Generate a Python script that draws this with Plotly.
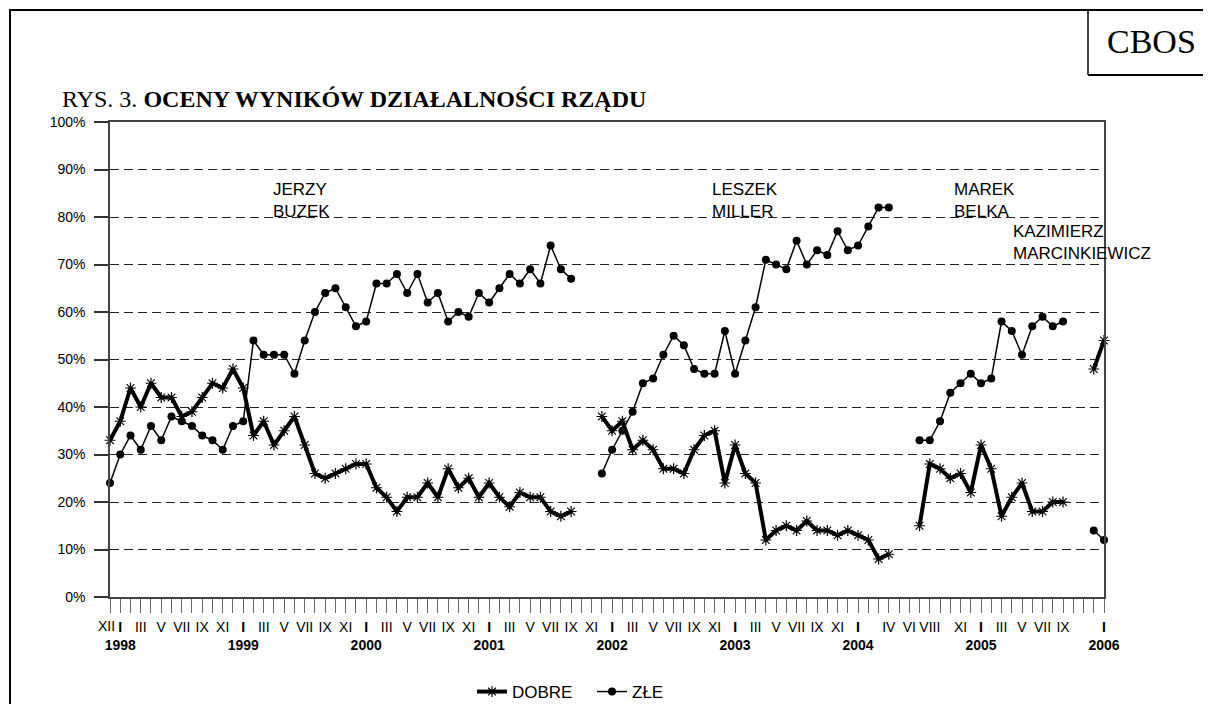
import plotly.graph_objects as go

# ---- categories: monthly, XII 1997 .. I 2006 ----
ROMAN = ["I", "II", "III", "IV", "V", "VI", "VII", "VIII", "IX", "X", "XI", "XII"]
YEARS = [1998, 1999, 2000, 2001, 2002, 2003, 2004, 2005]
months = ["XII 1997"] + [f"{r} {y}" for y in YEARS for r in ROMAN] + ["I 2006"]

# month labels that are printed under the axis, per year
shown_labels = {
    1998: ["I", "III", "V", "VII", "IX", "XI"],
    1999: ["I", "III", "V", "VII", "IX", "XI"],
    2000: ["I", "III", "V", "VII", "IX", "XI"],
    2001: ["I", "III", "V", "VII", "IX", "XI"],
    2002: ["I", "III", "V", "VII", "IX", "XI"],
    2003: ["I", "III", "V", "VII", "IX", "XI"],
    2004: ["I", "IV", "VI", "VIII", "XI"],
    2005: ["I", "III", "V", "VII", "IX"],
    2006: ["I"],
}
first_label = "XII"  # label of the first month (XII 1997), set slightly left of its tick

# ---- values (%) ----
dobre_buzek = [33, 37, 44, 40, 45, 42, 42, 38, 39, 42, 45, 44, 48, 44, 34, 37, 32, 35, 38, 32,
               26, 25, 26, 27, 28, 28, 23, 21, 18, 21, 21, 24, 21, 27, 23, 25, 21, 24, 21, 19,
               22, 21, 21, 18, 17, 18]
zle_buzek = [24, 30, 34, 31, 36, 33, 38, 37, 36, 34, 33, 31, 36, 37, 54, 51, 51, 51, 47, 54,
             60, 64, 65, 61, 57, 58, 66, 66, 68, 64, 68, 62, 64, 58, 60, 59, 64, 62, 65, 68,
             66, 69, 66, 74, 69, 67]
dobre_miller = [38, 35, 37, 31, 33, 31, 27, 27, 26, 31, 34, 35, 24, 32, 26, 24, 12, 14, 15, 14,
                16, 14, 14, 13, 14, 13, 12, 8, 9]
zle_miller = [26, 31, 35, 39, 45, 46, 51, 55, 53, 48, 47, 47, 56, 47, 54, 61, 71, 70, 69, 75,
              70, 73, 72, 77, 73, 74, 78, 82, 82]
dobre_belka = [15, 28, 27, 25, 26, 22, 32, 27, 17, 21, 24, 18, 18, 20, 20]
zle_belka = [33, 33, 37, 43, 45, 47, 45, 46, 58, 56, 51, 57, 59, 57, 58]
dobre_marc = [48, 54]
zle_marc = [14, 12]
gap = [None, None]

dobre = dobre_buzek + gap + dobre_miller + gap + dobre_belka + gap + dobre_marc
zle = zle_buzek + gap + zle_miller + gap + zle_belka + gap + zle_marc

# tick text
tick_text = []
for m in months:
    r, y = m.split()
    y = int(y)
    if r in shown_labels.get(y, []):
        if r == "I":
            tick_text.append(f"<b>I</b><br><b>{y}</b>")
        else:
            tick_text.append(r)
    else:
        tick_text.append("")

# ---- geometry (the page places the figure 8px from the top-left corner) ----
OFF = 8
W, H = 1211, 704
PL, PR, PT, PB = 110 - OFF, 1104 - OFF, 122 - OFF, 597 - OFF


def px(x):  # reference-picture x -> paper
    return (x - OFF - PL) / (PR - PL)


def py(y):  # reference-picture y -> paper
    return (PB - (y - OFF)) / (PB - PT)


SANS = "Liberation Sans, Arial, sans-serif"
SERIF = "Liberation Serif, Times New Roman, serif"

fig = go.Figure()
fig.add_trace(go.Scatter(
    x=months, y=dobre, name="DOBRE", mode="lines+markers", connectgaps=False,
    line=dict(color="black", width=4),
    marker=dict(symbol="asterisk-open", size=9, color="black", line=dict(color="black", width=1.2)),
    cliponaxis=False,
))
fig.add_trace(go.Scatter(
    x=months, y=zle, name="ZŁE", mode="lines+markers", connectgaps=False,
    line=dict(color="black", width=1.5),
    marker=dict(symbol="circle", size=8, color="black"),
    cliponaxis=False,
))

fig.update_layout(
    width=W, height=H,
    margin=dict(l=PL, r=W - PR, t=PT, b=H - PB, autoexpand=False),
    paper_bgcolor="white", plot_bgcolor="white",
    font=dict(family=SANS, size=14, color="black"),
    showlegend=True,
    legend=dict(orientation="h", x=px(472), y=py(692), xanchor="left", yanchor="middle",
                font=dict(family=SANS, size=17, color="black"), itemwidth=30,
                entrywidth=75, entrywidthmode="pixels",
                bgcolor="rgba(0,0,0,0)"),
    xaxis=dict(type="category", categoryorder="array", categoryarray=months,
               range=[0, len(months) - 1],
               tickmode="array", tickvals=months, ticktext=tick_text, tickangle=0,
               ticks="outside", ticklen=14, tickwidth=1, tickcolor="#666",
               ticklabelstandoff=2,
               showline=True, linecolor="#444", linewidth=1.5, mirror=True,
               showgrid=False, zeroline=False,
               tickfont=dict(family=SANS, size=14, color="black")),
    yaxis=dict(range=[0, 100], tick0=0, dtick=10, ticksuffix="%",
               ticks="outside", ticklen=14, tickwidth=1.5, tickcolor="#333",
               ticklabelstandoff=6,
               showline=True, linecolor="#444", linewidth=1.5, mirror=True,
               showgrid=True, gridcolor="#222", gridwidth=1, griddash="9px,5px",
               zeroline=False,
               tickfont=dict(family=SANS, size=14, color="black")),
)

# first month label (kept clear of the neighbouring "I")
fig.add_annotation(xref="paper", yref="paper", x=px(106), y=py(626), text=first_label,
                   showarrow=False, xanchor="center", yanchor="middle",
                   font=dict(family=SANS, size=14, color="black"))

# frame and CBOS box
fig.add_shape(type="rect", xref="paper", yref="paper",
              x0=px(10), x1=px(1240), y0=py(740), y1=py(10),
              line=dict(color="black", width=2), fillcolor="rgba(0,0,0,0)", layer="above")
fig.add_shape(type="line", xref="paper", yref="paper", x0=px(1088), x1=px(1088), y0=py(10), y1=py(75),
              line=dict(color="black", width=1.5))
fig.add_shape(type="line", xref="paper", yref="paper", x0=px(1088), x1=px(1240), y0=py(75), y1=py(75),
              line=dict(color="black", width=2))

fig.add_annotation(xref="paper", yref="paper", x=px(1151), y=py(42), text="CBOS", showarrow=False,
                   xanchor="center", yanchor="middle", font=dict(family=SERIF, size=34, color="black"))
fig.add_annotation(xref="paper", yref="paper", x=px(60), y=py(99),
                   text="RYS. 3. <b>OCENY WYNIKÓW DZIAŁALNOŚCI RZĄDU</b>", showarrow=False,
                   xanchor="left", yanchor="middle", font=dict(family=SERIF, size=24, color="black"))

for label, x0, y0 in [("JERZY<br>BUZEK", 271, 178), ("LESZEK<br>MILLER", 710, 178),
                      ("MAREK<br>BELKA", 952, 178), ("KAZIMIERZ<br>MARCINKIEWICZ", 1011, 220)]:
    fig.add_annotation(xref="paper", yref="paper", x=px(x0), y=py(y0), text=label, showarrow=False,
                       xanchor="left", yanchor="top", align="left",
                       font=dict(family=SANS, size=17, color="black"))

fig.write_html("out.html")
